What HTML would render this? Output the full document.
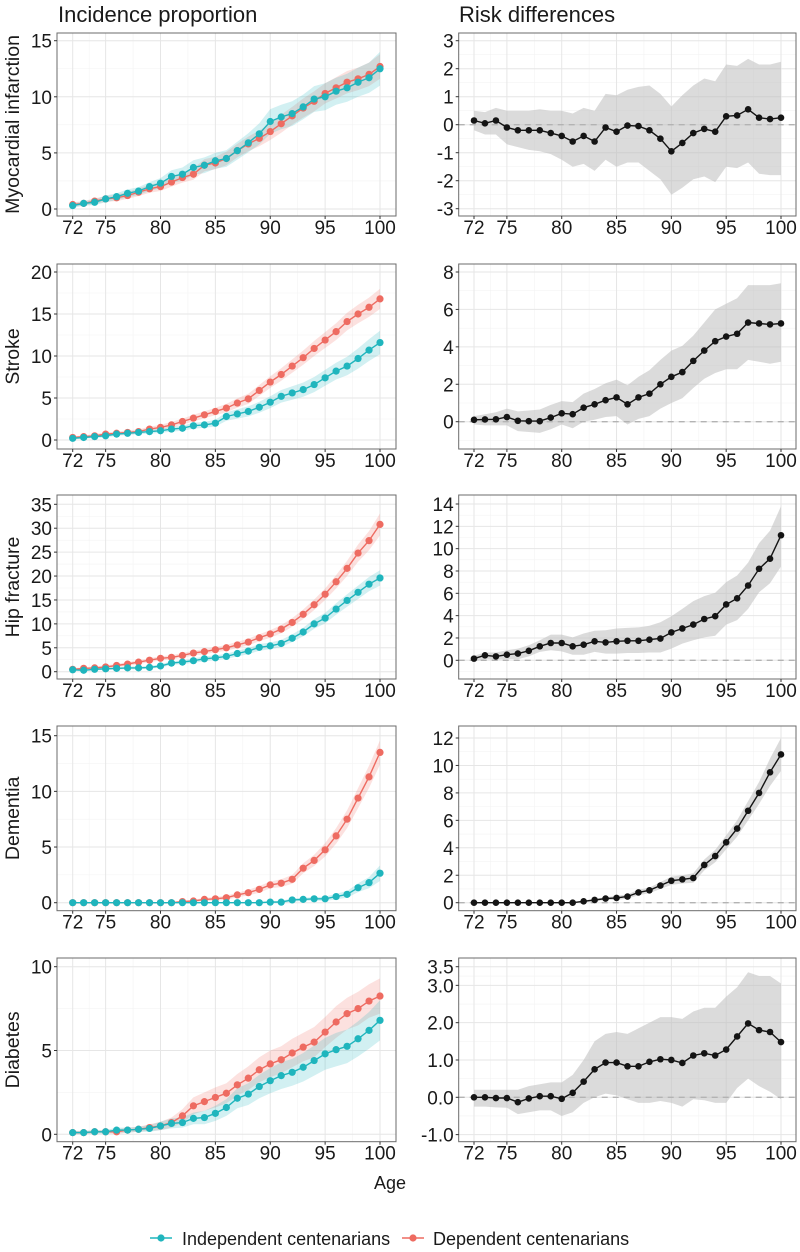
<!DOCTYPE html>
<html><head><meta charset="utf-8">
<style>
html,body{margin:0;padding:0;background:#fff;}
svg{display:block;font-family:"Liberation Sans",Arial,sans-serif;}
</style></head>
<body>
<svg id="fig" width="800" height="1252" viewBox="0 0 800 1252">
<text x="58" y="22" font-size="22" fill="#1a1a1a">Incidence proportion</text>
<text x="459" y="22" font-size="22" fill="#1a1a1a">Risk differences</text>
<text x="390" y="1189" font-size="18" fill="#1a1a1a" text-anchor="middle">Age</text>
<g>
<line x1="150" y1="1238" x2="172" y2="1238" stroke="#1FB5BD" stroke-width="1.5"/>
<circle cx="161" cy="1238" r="3.6" fill="#1FB5BD"/>
<text x="182" y="1245" font-size="18" fill="#1a1a1a">Independent centenarians</text>
<line x1="402" y1="1238" x2="424" y2="1238" stroke="#EE6B61" stroke-width="1.5"/>
<circle cx="413" cy="1238" r="3.6" fill="#EE6B61"/>
<text x="433" y="1245" font-size="18" fill="#1a1a1a">Dependent centenarians</text>
</g>
</svg>
<script>
const ages = [72,73,74,75,76,77,78,79,80,81,82,83,84,85,86,87,88,89,90,91,92,93,94,95,96,97,98,99,100];
const xTicks = [72,75,80,85,90,95,100];
const outcomes = ["Myocardial infarction","Stroke","Hip fracture","Dementia","Diabetes"];

const miIndep = [0.3,0.5,0.6,0.9,1.1,1.4,1.6,2.0,2.3,2.9,3.1,3.7,3.9,4.3,4.5,5.2,5.9,6.7,7.8,8.2,8.5,9.1,9.8,10.0,10.5,10.8,11.3,11.7,12.5];
const miDep = [0.4,0.5,0.7,0.9,1.0,1.2,1.5,1.8,2.0,2.4,2.8,3.1,3.9,4.1,4.5,5.2,5.8,6.3,6.9,7.6,8.3,9.0,9.6,10.3,10.8,11.3,11.6,12.0,12.7];
const miIndepHw = [0.2,0.2,0.25,0.3,0.3,0.35,0.35,0.4,0.45,0.55,0.6,0.65,0.7,0.7,0.75,0.8,0.85,0.95,1.1,1.1,1.1,1.1,1.15,1.2,1.2,1.25,1.3,1.35,1.5];
const miDepHw = [0.2,0.2,0.25,0.25,0.3,0.3,0.35,0.35,0.4,0.4,0.45,0.5,0.55,0.55,0.6,0.6,0.65,0.7,0.75,0.8,0.8,0.85,0.9,0.9,0.95,1.0,1.0,1.05,1.1];

const strokeIndep = [0.2,0.3,0.4,0.5,0.7,0.8,0.9,1.0,1.1,1.3,1.4,1.7,1.8,2.0,2.8,3.1,3.4,3.9,4.5,5.2,5.6,6.0,6.6,7.4,8.2,8.8,9.7,10.7,11.6];
const strokeDep = [0.3,0.4,0.5,0.7,0.8,0.9,1.0,1.3,1.5,1.8,2.2,2.6,3.0,3.4,3.8,4.4,4.9,5.9,6.9,7.8,8.8,9.8,10.9,11.9,12.9,14.1,15.0,15.8,16.8];
const strokeIndepHw = [0.1,0.15,0.15,0.2,0.2,0.2,0.2,0.25,0.25,0.3,0.3,0.35,0.35,0.4,0.5,0.55,0.6,0.65,0.7,0.75,0.8,0.85,0.9,0.95,1.0,1.1,1.2,1.3,1.4];
const strokeDepHw = [0.15,0.15,0.2,0.2,0.2,0.25,0.25,0.3,0.3,0.35,0.35,0.4,0.4,0.45,0.5,0.55,0.6,0.65,0.7,0.75,0.8,0.85,0.9,0.95,1.0,1.05,1.1,1.15,1.2];

const hipIndep = [0.4,0.3,0.5,0.6,0.7,0.8,0.8,0.9,1.2,1.8,2.0,2.3,2.7,2.9,3.2,3.8,4.3,5.1,5.4,5.9,7.0,8.3,10.0,11.2,13.1,14.9,16.6,18.3,19.6];
const hipDep = [0.5,0.7,0.8,1.0,1.3,1.6,2.0,2.4,2.8,3.0,3.4,3.9,4.2,4.6,5.0,5.6,6.2,7.1,7.9,8.9,10.3,12.0,14.0,16.2,18.8,21.6,24.8,27.4,30.8];
const hipIndepHw = [0.2,0.2,0.2,0.25,0.25,0.3,0.3,0.3,0.35,0.4,0.4,0.45,0.5,0.5,0.55,0.6,0.65,0.7,0.7,0.75,0.8,0.9,1.0,1.1,1.2,1.3,1.4,1.5,1.6];
const hipDepHw = [0.25,0.25,0.3,0.3,0.35,0.35,0.4,0.4,0.45,0.45,0.5,0.5,0.55,0.55,0.6,0.65,0.7,0.75,0.8,0.85,0.9,1.0,1.1,1.2,1.4,1.6,1.8,2.0,2.3];

const demIndep = [0,0,0,0,0,0,0,0,0,0,0,0,0,0,0,0,0,0,0.05,0.05,0.25,0.3,0.35,0.35,0.55,0.75,1.35,1.8,2.65];
const demDep = [0,0,0,0,0,0,0,0,0,0,0.1,0.15,0.3,0.35,0.45,0.7,0.9,1.2,1.6,1.75,2.1,3.1,3.8,4.75,6.0,7.5,9.4,11.3,13.5];
const demIndepHw = [0.05,0.05,0.05,0.05,0.05,0.05,0.05,0.05,0.05,0.05,0.05,0.05,0.05,0.05,0.05,0.05,0.05,0.05,0.1,0.1,0.15,0.15,0.15,0.2,0.25,0.3,0.4,0.5,0.7];
const demDepHw = [0.05,0.05,0.05,0.05,0.05,0.05,0.05,0.05,0.05,0.05,0.1,0.1,0.15,0.15,0.2,0.2,0.25,0.3,0.3,0.35,0.4,0.45,0.5,0.6,0.7,0.8,0.9,1.0,1.1];

const diabIndep = [0.1,0.1,0.15,0.15,0.25,0.25,0.3,0.35,0.5,0.65,0.7,0.95,1.0,1.25,1.6,2.15,2.4,2.85,3.2,3.5,3.7,4.0,4.4,4.8,5.05,5.25,5.7,6.2,6.8];
const diabDep = [0.1,0.1,0.15,0.15,0.15,0.25,0.3,0.4,0.5,0.7,1.1,1.7,1.95,2.2,2.45,2.95,3.35,3.85,4.2,4.45,4.85,5.2,5.5,6.1,6.7,7.2,7.5,7.95,8.25];
const diabIndepHw = [0.1,0.1,0.1,0.1,0.15,0.15,0.15,0.2,0.25,0.3,0.3,0.35,0.4,0.45,0.5,0.6,0.65,0.7,0.75,0.8,0.8,0.85,0.9,0.95,1.0,1.0,1.05,1.1,1.2];
const diabDepHw = [0.1,0.1,0.1,0.1,0.15,0.15,0.15,0.2,0.25,0.3,0.4,0.5,0.55,0.6,0.6,0.65,0.7,0.75,0.8,0.8,0.85,0.85,0.9,0.9,0.95,0.95,1.0,1.0,1.05];

const miRd = [0.15,0.05,0.15,-0.1,-0.2,-0.2,-0.2,-0.3,-0.4,-0.6,-0.4,-0.6,-0.1,-0.25,-0.03,-0.05,-0.2,-0.5,-0.95,-0.65,-0.3,-0.15,-0.25,0.3,0.33,0.55,0.25,0.2,0.25];
const miRdHi = [0.5,0.45,0.6,0.5,0.5,0.5,0.55,0.5,0.5,0.4,0.6,0.5,1.1,1.05,1.25,1.35,1.4,1.1,0.65,1.05,1.4,1.65,1.55,2.15,2.1,2.35,2.15,2.15,2.25];
const miRdLo = [-0.2,-0.35,-0.35,-0.7,-0.8,-0.9,-0.95,-1.05,-1.25,-1.5,-1.4,-1.65,-1.25,-1.5,-1.35,-1.35,-1.65,-1.95,-2.5,-2.25,-1.95,-1.85,-2.05,-1.5,-1.55,-1.35,-1.75,-1.8,-1.8];

const strokeRd = [0.1,0.12,0.13,0.25,0.05,0.03,0.03,0.22,0.45,0.4,0.75,0.93,1.15,1.3,0.93,1.3,1.5,2.0,2.4,2.65,3.25,3.8,4.3,4.55,4.7,5.3,5.25,5.2,5.25];
const strokeRdHi = [0.3,0.4,0.5,0.7,0.55,0.6,0.65,0.9,1.1,1.05,1.5,1.75,2.05,2.25,1.95,2.4,2.75,3.3,3.8,4.05,4.6,5.3,6.0,6.3,6.6,7.3,7.3,7.3,7.4];
const strokeRdLo = [-0.15,-0.2,-0.2,-0.2,-0.5,-0.55,-0.6,-0.4,-0.15,-0.35,0,0.1,0.25,0.3,-0.15,0.15,0.3,0.7,1.0,1.25,1.8,2.3,2.6,2.8,2.8,3.3,3.2,3.1,3.2];

const hipRd = [0.15,0.45,0.35,0.5,0.6,0.85,1.25,1.55,1.55,1.25,1.4,1.7,1.6,1.7,1.75,1.75,1.85,1.95,2.5,2.85,3.2,3.7,3.95,5.0,5.55,6.7,8.2,9.1,11.2];
const hipRdHi = [0.4,0.7,0.7,0.9,1.05,1.35,1.8,2.3,2.3,2.05,2.4,2.65,2.7,2.85,2.9,2.95,3.1,3.4,3.95,4.6,5.3,5.75,6.05,7.0,7.6,8.75,10.5,11.6,13.8];
const hipRdLo = [-0.1,0.1,0.05,0.1,0.1,0.35,0.75,0.9,0.8,0.5,0.5,0.75,0.6,0.6,0.65,0.65,0.7,0.7,1.05,1.5,1.8,2.05,2.2,3.2,3.6,4.6,6.1,6.9,8.4];

const demRd = [0,0,0,0,0,0,0,0,0,0,0.1,0.2,0.3,0.35,0.45,0.75,0.9,1.25,1.6,1.7,1.8,2.75,3.4,4.4,5.4,6.7,8.0,9.5,10.8];
const demRdHi = [0.05,0.05,0.05,0.05,0.05,0.05,0.05,0.05,0.05,0.05,0.15,0.3,0.4,0.5,0.6,0.95,1.1,1.5,1.9,2.0,2.15,3.15,3.85,4.9,6.0,7.4,8.8,10.5,12.0];
const demRdLo = [-0.05,-0.05,-0.05,-0.05,-0.05,-0.05,-0.05,-0.05,-0.05,-0.05,0.05,0.1,0.2,0.2,0.3,0.55,0.7,1.0,1.3,1.4,1.45,2.35,2.95,3.9,4.8,6.0,7.2,8.5,9.6];

const diabRd = [0,0,-0.02,-0.02,-0.13,-0.03,0.03,0.03,-0.04,0.12,0.42,0.75,0.93,0.93,0.83,0.83,0.95,1.02,1.0,0.92,1.12,1.18,1.12,1.28,1.63,1.98,1.8,1.75,1.48];
const diabRdHi = [0.2,0.2,0.2,0.2,0.2,0.3,0.35,0.4,0.4,0.6,1.0,1.5,1.7,1.75,1.7,1.85,2.0,2.15,2.15,2.1,2.3,2.4,2.4,2.7,2.95,3.35,3.25,3.25,3.05];
const diabRdLo = [-0.25,-0.25,-0.27,-0.28,-0.45,-0.4,-0.35,-0.35,-0.5,-0.4,-0.15,0,0.1,0.05,-0.05,-0.15,-0.15,-0.1,-0.15,-0.25,-0.05,-0.08,-0.15,-0.15,0.25,0.5,0.3,0.15,-0.05];

const leftTicks = [[0,5,10,15],[0,5,10,15,20],[0,5,10,15,20,25,30,35],[0,5,10,15],[0,5,10]];
const rightTicks = [[-3,-2,-1,0,1,2,3],[0,2,4,6,8],[0,2,4,6,8,10,12,14],[0,2,4,6,8,10,12],[-1,0,1,2,3,3.5]];
const rightTickLabels = [["-3","-2","-1","0","1","2","3"],["0","2","4","6","8"],["0","2","4","6","8","10","12","14"],["0","2","4","6","8","10","12"],["-1.0","0.0","1.0","2.0","3.0","3.5"]];

const leftSeries = [
 [miIndep,miIndepHw,miDep,miDepHw],[strokeIndep,strokeIndepHw,strokeDep,strokeDepHw],
 [hipIndep,hipIndepHw,hipDep,hipDepHw],[demIndep,demIndepHw,demDep,demDepHw],
 [diabIndep,diabIndepHw,diabDep,diabDepHw]];
const rightSeries = [[miRd,miRdLo,miRdHi],[strokeRd,strokeRdLo,strokeRdHi],[hipRd,hipRdLo,hipRdHi],[demRd,demRdLo,demRdHi],[diabRd,diabRdLo,diabRdHi]];

const rowsGeom = [{top:33,bot:216},{top:264,bot:449},{top:495,bot:679},{top:726,bot:910.7},{top:958,bot:1141.7}];
const leftCal = [[0,209,15,40.7],[0,440,20,272],[0,671.7,35,504.3],[0,902.7,15,735.7],[0,1134.3,10,966.7]];
const rightCal = [[0,124.7,3,40.7],[0,421.7,8,272],[0,660.3,14,504],[0,902.7,12,738],[0,1097.3,3.5,966.7]];
const colGeom = {L:{x0:57,x1:396,a0:72.7,a1:380}, R:{x0:458.7,x1:796,a0:474,a1:781}};

const NS="http://www.w3.org/2000/svg";
const svg=document.getElementById('fig');
function mk(tag,attrs,parent){const e=document.createElementNS(NS,tag);for(const k in attrs)e.setAttribute(k,attrs[k]);(parent||svg).appendChild(e);return e;}
const BLUE="#1FB5BD", RED="#EE6B61";

function drawPanel(r, side){
  const g=rowsGeom[r], c=colGeom[side];
  const cal = side==='L'?leftCal[r]:rightCal[r];
  const ticks = side==='L'?leftTicks[r]:rightTicks[r];
  const xs = a => c.a0 + (a-72)*(c.a1-c.a0)/28;
  const ys = v => cal[1] + (v-cal[0])*(cal[3]-cal[1])/(cal[2]-cal[0]);
  const pg=mk('g',{});
  
  
  const clipId='clip'+side+r;
  const cp=mk('clipPath',{id:clipId},pg); mk('rect',{x:c.x0,y:g.top,width:c.x1-c.x0,height:g.bot-g.top},cp);
  const grid=mk('g',{'clip-path':'url(#'+clipId+')'},pg);
  
  
  for(let i=0;i<xTicks.length-1;i++){const m=(xTicks[i]+xTicks[i+1])/2;mk('line',{x1:xs(m),x2:xs(m),y1:g.top,y2:g.bot,stroke:'#f3f3f3','stroke-width':0.6},grid);}
  const step=ticks[1]-ticks[0];
  for(let i=-1;i<ticks.length;i++){
    let a=i<0?ticks[0]-step:ticks[i], b=i+1<ticks.length?ticks[i+1]:ticks[i]+step;
    const m=(a+b)/2; mk('line',{x1:c.x0,x2:c.x1,y1:ys(m),y2:ys(m),stroke:'#f3f3f3','stroke-width':0.6},grid);
  }
  xTicks.forEach(t=>mk('line',{x1:xs(t),x2:xs(t),y1:g.top,y2:g.bot,stroke:'#e6e6e6','stroke-width':1},grid));
  ticks.forEach(t=>mk('line',{x1:c.x0,x2:c.x1,y1:ys(t),y2:ys(t),stroke:'#e6e6e6','stroke-width':1},grid));
  const data=mk('g',{'clip-path':'url(#'+clipId+')'},pg);
  
  
  function band(lo,hi,fill,op,name){
    let d='M'+ages.map((a,i)=>xs(a).toFixed(1)+','+ys(hi[i]).toFixed(1)).join('L');
    d+='L'+ages.slice().reverse().map((a,j)=>{const i=ages.length-1-j;return xs(a).toFixed(1)+','+ys(lo[i]).toFixed(1);}).join('L')+'Z';
    const p=mk('path',{d:d,fill:fill,'fill-opacity':op},data);
    
    
  }
  function line(vals,col,rad,name){
    const pl=mk('polyline',{points:ages.map((a,i)=>xs(a).toFixed(1)+','+ys(vals[i]).toFixed(1)).join(' '),fill:'none',stroke:col,'stroke-width':1.4},data);
    
    
    ages.forEach((a,i)=>{const ci=mk('circle',{cx:xs(a),cy:ys(vals[i]),r:rad,fill:col},data);
      
      });
  }
  if(side==='L'){
    const [bi,bh,di,dh]=leftSeries[r];
    band(di.map((v,i)=>v-dh[i]),di.map((v,i)=>v+dh[i]),RED,0.2,'dependent-ci-band');
    band(bi.map((v,i)=>v-bh[i]),bi.map((v,i)=>v+bh[i]),BLUE,0.2,'independent-ci-band');
    line(di,RED,3.6,'dependent');
    line(bi,BLUE,3.6,'independent');
  } else {
    const [v,lo,hi]=rightSeries[r];
    band(lo,hi,'#bdbdbd',0.55,'risk-diff-ci-band');
    const z=mk('line',{x1:c.x0,x2:c.x1,y1:ys(0),y2:ys(0),stroke:'#b3b3b3','stroke-width':1.4,'stroke-dasharray':'6,5'},data);
    
    
    line(v,'#141414',3.3,'risk-diff');
  }
  const fr=mk('rect',{x:c.x0,y:g.top,width:c.x1-c.x0,height:g.bot-g.top,fill:'none',stroke:'#6b6b6b','stroke-width':1},pg);
  
  
  ticks.forEach((t,i)=>{
    mk('line',{x1:c.x0-3,x2:c.x0,y1:ys(t),y2:ys(t),stroke:'#333','stroke-width':1},pg);
    const lab = side==='L'?String(t):rightTickLabels[r][i];
    const tx=mk('text',{x:c.x0-5,y:ys(t)+7,'font-size':19,'text-anchor':'end',fill:'#1a1a1a'},pg);
    tx.textContent=lab;
    
    
  });
  xTicks.forEach(t=>{
    mk('line',{x1:xs(t),x2:xs(t),y1:g.bot,y2:g.bot+3,stroke:'#333','stroke-width':1},pg);
    const tx=mk('text',{x:xs(t),y:g.bot+18,'font-size':19,'text-anchor':'middle',fill:'#1a1a1a'},pg);
    tx.textContent=String(t);
    
    
  });
  if(side==='L'){
    const cy=(g.top+g.bot)/2;
    const yt=mk('text',{x:0,y:0,'font-size':19.5,'text-anchor':'middle',fill:'#1a1a1a',transform:'translate(19,'+cy+') rotate(-90)'},pg);
    yt.textContent=outcomes[r];
    
    
  }
}
for(let r=0;r<5;r++){drawPanel(r,'L');drawPanel(r,'R');}
</script>
</body></html>
